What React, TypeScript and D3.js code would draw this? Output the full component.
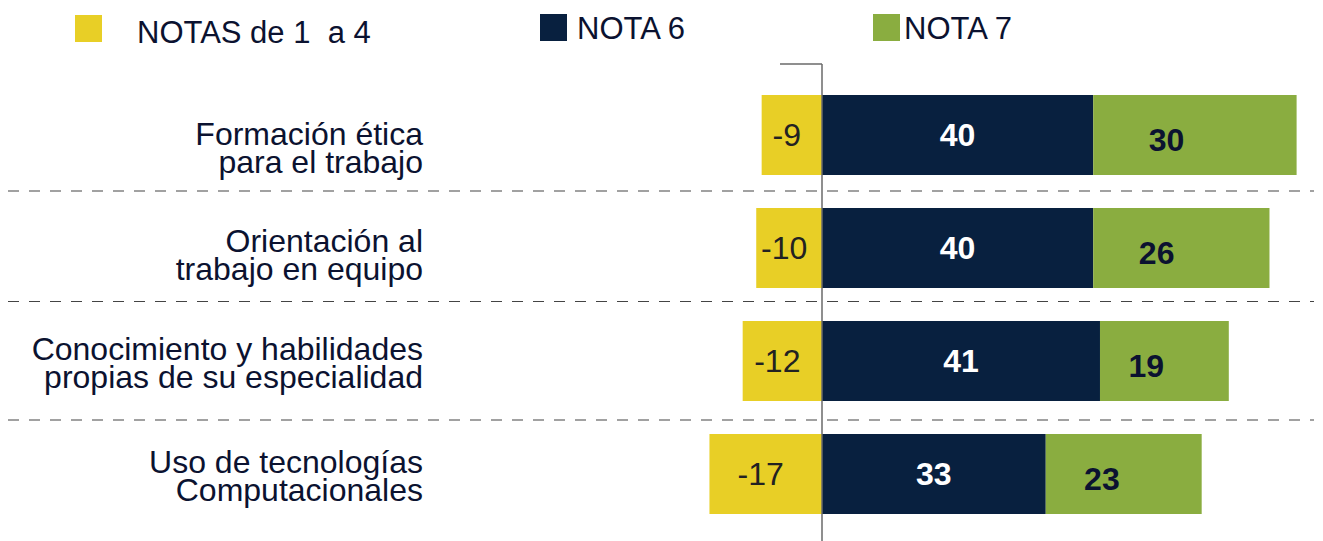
import React from "react";
import * as d3 from "d3";

const categories = [
  ["Formación ética", "para el trabajo"],
  ["Orientación al", "trabajo en equipo"],
  ["Conocimiento y habilidades", "propias de su especialidad"],
  ["Uso de tecnologías", "Computacionales"],
];
const nota1a4 = [-8.9, -9.7, -11.7, -16.6];
const nota6 = [40, 40, 41, 33];
const nota7 = [30, 26, 19, 23];
const legendLabels = ["NOTAS de 1  a 4", "NOTA 6", "NOTA 7"];

const COLORS = { yellow: "#E8CF26", navy: "#08203F", green: "#8AAD40", text: "#0B1230" };
const FONT = "'Liberation Sans', Arial, Helvetica, sans-serif";
const labelNudge = [11, 5, 0, 0];
const separatorNudge = [-0.5, -3, 2.5];

export default function App() {
  const W = 1323, H = 541;
  const x = d3.scaleLinear().domain([0, 70]).range([822, 1296.6]);
  const keys = categories.map((_, i) => String(i));
  const y = d3.scaleBand().domain(keys).range([78.5, 530.5]).paddingInner(33 / 113).paddingOuter(33 / 226);
  const bw = y.bandwidth();
  const step = y.step();

  const rows = keys.map((k, i) => {
    const top = y(k) as number;
    return { i, top, v1: nota1a4[i], v6: nota6[i], v7: nota7[i] };
  });

  const separators = keys.slice(1).map((k, i) => (y(k) as number) - (step - bw) / 2 + separatorNudge[i]);

  return (
    <svg width={W} height={H} style={{ position: "absolute", left: 0, top: 0 }} fontFamily={FONT}>
      <rect width={W} height={H} fill="#fff" />
      {/* legend */}
      <rect x={75} y={15} width={27} height={27} fill={COLORS.yellow} />
      <text x={137} y={43} fontSize={31} fill={COLORS.text} style={{ whiteSpace: "pre" }}>{legendLabels[0]}</text>
      <rect x={540} y={14} width={27} height={27} fill={COLORS.navy} />
      <text x={577} y={39} fontSize={31} fill={COLORS.text}>{legendLabels[1]}</text>
      <rect x={873} y={14} width={27} height={27} fill={COLORS.green} />
      <text x={904} y={39} fontSize={31} fill={COLORS.text}>{legendLabels[2]}</text>

      {/* separators */}
      {separators.map((sy, i) => (
        <line key={i} x1={8} x2={1314} y1={sy} y2={sy} stroke="#444" strokeWidth={1.2} strokeDasharray="11,10" />
      ))}

      {rows.map((r) => {
        const cy = r.top + bw / 2;
        const x0 = x(0), xn = x(r.v1), x6 = x(r.v6), x7 = x(r.v6 + r.v7);
        const lc = cy + labelNudge[r.i];
        return (
          <g key={r.i}>
            <rect x={xn} y={r.top} width={x0 - xn} height={bw} fill={COLORS.yellow} />
            <rect x={x0} y={r.top} width={x6 - x0} height={bw} fill={COLORS.navy} />
            <rect x={x6} y={r.top} width={x7 - x6} height={bw} fill={COLORS.green} />
            <text x={(xn + x0) / 2 - 5} y={cy} dy="0.35em" textAnchor="middle" fontSize={32} fill="#222">
              {Math.round(r.v1)}
            </text>
            <text x={x0 + (x6 - x0) * 0.5} y={cy} dy="0.35em" textAnchor="middle" fontSize={32} fontWeight="bold" fill="#fff">
              {r.v6}
            </text>
            <text x={x6 + (x7 - x6) * 0.36} y={cy + 5} dy="0.35em" textAnchor="middle" fontSize={32} fontWeight="bold" fill={COLORS.text}>
              {r.v7}
            </text>
            <text x={423} y={lc - 1} textAnchor="end" fontSize={32} fill={COLORS.text}>
              <tspan x={423}>{categories[r.i][0]}</tspan>
              <tspan x={423} dy={28}>{categories[r.i][1]}</tspan>
            </text>
          </g>
        );
      })}

      {/* axis */}
      <line x1={x(0)} x2={x(0)} y1={64} y2={H} stroke="#6a6a6a" strokeWidth={1.5} />
      <line x1={780} x2={x(0)} y1={64} y2={64} stroke="#6a6a6a" strokeWidth={1.5} />
    </svg>
  );
}
